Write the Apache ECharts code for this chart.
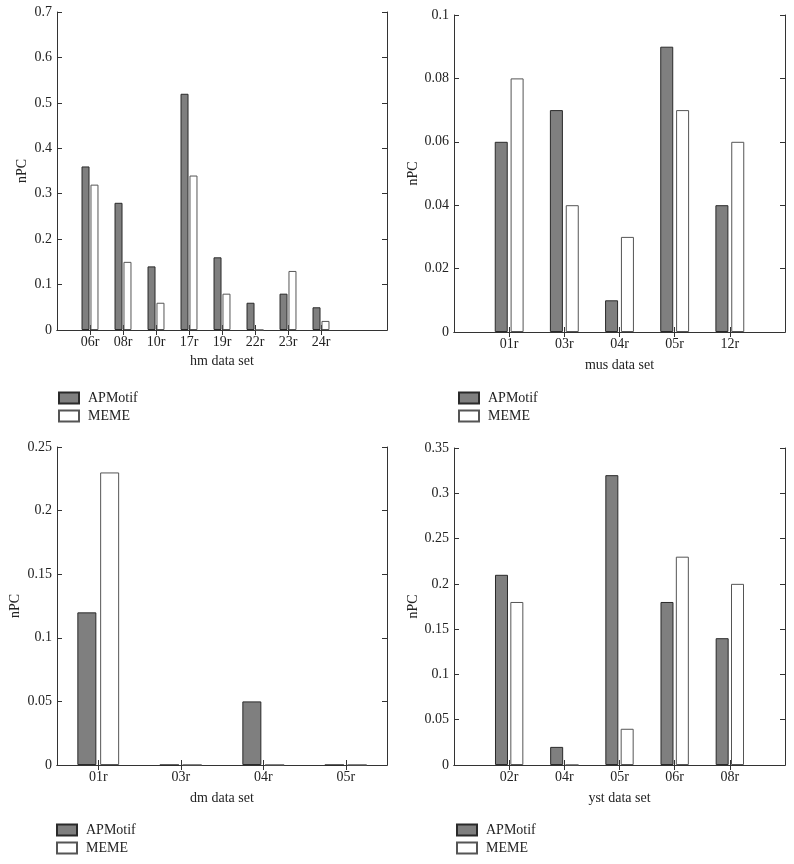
<!DOCTYPE html>
<html>
<head>
<meta charset="utf-8">
<script src="https://cdn.jsdelivr.net/npm/echarts@6/dist/echarts.min.js"></script>
<style>
html,body{margin:0;padding:0;background:#fff;}
#main{width:794px;height:864px;}
</style>
</head>
<body>
<div id="main"></div>
<script>
// ---- data ----
const seriesNames = ['APMotif', 'MEME'];

const hmCategories = ['06r', '08r', '10r', '17r', '19r', '22r', '23r', '24r'];
const hmAPMotif = [0.36, 0.28, 0.14, 0.52, 0.16, 0.06, 0.08, 0.05];
const hmMEME = [0.32, 0.15, 0.06, 0.34, 0.08, 0, 0.13, 0.02];

const musCategories = ['01r', '03r', '04r', '05r', '12r'];
const musAPMotif = [0.06, 0.07, 0.01, 0.09, 0.04];
const musMEME = [0.08, 0.04, 0.03, 0.07, 0.06];

const dmCategories = ['01r', '03r', '04r', '05r'];
const dmAPMotif = [0.12, 0, 0.05, 0];
const dmMEME = [0.23, 0, 0, 0];

const ystCategories = ['02r', '04r', '05r', '06r', '08r'];
const ystAPMotif = [0.21, 0.02, 0.32, 0.18, 0.14];
const ystMEME = [0.18, 0, 0.04, 0.23, 0.2];

// ---- styles ----
const FONT = 'Liberation Serif';
const AXIS_COLOR = '#333';
const TEXT_COLOR = '#222';

const panels = [
  { name: 'hm data set', cats: hmCategories, a: hmAPMotif, m: hmMEME,
    padL: 1, padR: 2, boundary: false, yMax: 0.7, yInt: 0.1,
    grid: {left: 57, top: 12, width: 330, height: 318},
    barWidth: 8, barGap: '12%', yNameGap: 28, xNameGap: 24,
    legend: {left: 58, top: 391} },
  { name: 'mus data set', cats: musCategories, a: musAPMotif, m: musMEME,
    padL: 1, padR: 1, boundary: false, yMax: 0.1, yInt: 0.02,
    grid: {left: 454, top: 15, width: 331, height: 317},
    barWidth: 13, barGap: '22%', yNameGap: 34, xNameGap: 26,
    legend: {left: 458, top: 391} },
  { name: 'dm data set', cats: dmCategories, a: dmAPMotif, m: dmMEME,
    padL: 0, padR: 0, boundary: true, yMax: 0.25, yInt: 0.05,
    grid: {left: 57, top: 447, width: 330, height: 318},
    barWidth: 19, barGap: '20%', yNameGap: 35, xNameGap: 26,
    legend: {left: 56, top: 823} },
  { name: 'yst data set', cats: ystCategories, a: ystAPMotif, m: ystMEME,
    padL: 1, padR: 1, boundary: false, yMax: 0.35, yInt: 0.05,
    grid: {left: 454, top: 448, width: 331, height: 317},
    barWidth: 13, barGap: '18%', yNameGap: 34, xNameGap: 26,
    legend: {left: 456, top: 823} }
];

function pad(arr, l, r, fill) {
  const out = [];
  for (let i = 0; i < l; i++) out.push(fill);
  arr.forEach(v => out.push(v));
  for (let i = 0; i < r; i++) out.push(fill);
  return out;
}

const option = {
  backgroundColor: '#fff',
  animation: false,
  grid: [], xAxis: [], yAxis: [], series: [], legend: []
};

const tickOnNonEmpty = (idx, val) => val !== '';

panels.forEach((p, i) => {
  option.grid.push(Object.assign({containLabel: false}, p.grid));
  const cats = pad(p.cats, p.padL, p.padR, '');
  const baseX = {
    type: 'category', gridIndex: i, data: cats, boundaryGap: p.boundary,
    axisLine: {show: true, lineStyle: {color: AXIS_COLOR, width: 1}},
    axisTick: {show: true, inside: true, length: 5, alignWithLabel: true,
               interval: tickOnNonEmpty, lineStyle: {color: AXIS_COLOR}},
    splitLine: {show: false}
  };
  option.xAxis.push(Object.assign({}, baseX, {
    position: 'bottom',
    axisLabel: {show: true, interval: tickOnNonEmpty, margin: 5, color: TEXT_COLOR,
                fontFamily: FONT, fontSize: 14},
    name: p.name, nameLocation: 'middle', nameGap: p.xNameGap,
    nameTextStyle: {fontFamily: FONT, fontSize: 14, color: TEXT_COLOR}
  }));
  option.xAxis.push(Object.assign({}, baseX, {
    position: 'top', axisLabel: {show: false}
  }));
  const baseY = {
    type: 'value', gridIndex: i, min: 0, max: p.yMax, interval: p.yInt,
    axisLine: {show: true, lineStyle: {color: AXIS_COLOR, width: 1}},
    axisTick: {show: true, inside: true, length: 5, lineStyle: {color: AXIS_COLOR}},
    splitLine: {show: false}
  };
  option.yAxis.push(Object.assign({}, baseY, {
    position: 'left',
    axisLabel: {show: true, margin: 5, color: TEXT_COLOR, fontFamily: FONT, fontSize: 14},
    name: 'nPC', nameLocation: 'middle', nameGap: p.yNameGap, nameRotate: 90,
    nameTextStyle: {fontFamily: FONT, fontSize: 14, color: TEXT_COLOR}
  }));
  option.yAxis.push(Object.assign({}, baseY, {
    position: 'right', axisLabel: {show: false}
  }));

  option.series.push({
    name: seriesNames[0], type: 'bar', xAxisIndex: 2 * i, yAxisIndex: 2 * i,
    data: pad(p.a, p.padL, p.padR, null),
    barWidth: p.barWidth, barGap: p.barGap,
    itemStyle: {color: '#7f7f7f', borderColor: '#2a2a2a', borderWidth: 1}
  });
  option.series.push({
    name: seriesNames[1], type: 'bar', xAxisIndex: 2 * i, yAxisIndex: 2 * i,
    data: pad(p.m, p.padL, p.padR, null),
    barWidth: p.barWidth, barGap: p.barGap,
    itemStyle: {color: '#ffffff', borderColor: '#555555', borderWidth: 1}
  });

  option.legend.push({
    data: seriesNames, orient: 'vertical', left: p.legend.left, top: p.legend.top,
    padding: 0, height: 40,
    icon: 'rect', itemWidth: 20, itemHeight: 11, itemGap: 4,
    selectedMode: false,
    textStyle: {fontFamily: FONT, fontSize: 14, color: TEXT_COLOR, padding: [0, 0, 0, 4]}
  });
});

const chart = echarts.init(document.getElementById('main'), null, {renderer: 'canvas'});
chart.setOption(option);
</script>
</body>
</html>
